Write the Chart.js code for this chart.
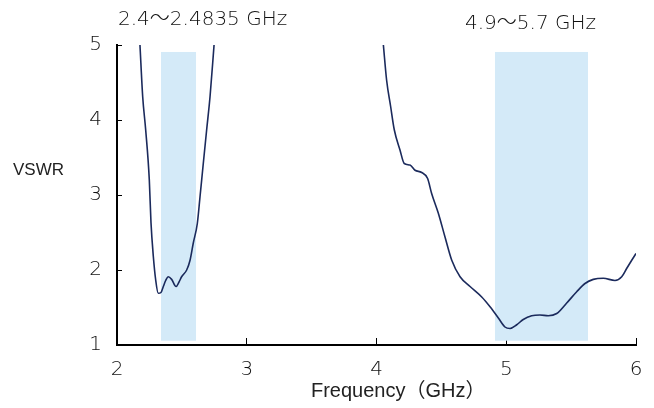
<!DOCTYPE html>
<html>
<head>
<meta charset="utf-8">
<script src="https://cdn.jsdelivr.net/npm/chart.js@4/dist/chart.umd.min.js"></script>
<style>
  html, body { margin: 0; padding: 0; background: #fff; }
</style>
</head>
<body>
<canvas id="c" width="654" height="408"></canvas>
<script>
// 2.4 GHz band response
const freqLow = [2.177, 2.198, 2.221, 2.249, 2.262, 2.280, 2.298, 2.318, 2.339, 2.357, 2.375, 2.395, 2.421, 2.455, 2.478, 2.498, 2.537, 2.563, 2.588, 2.619, 2.640, 2.665, 2.691, 2.717, 2.748];
const vswrLow = [5.0, 4.31, 3.87, 3.2, 2.63, 2.18, 1.87, 1.69, 1.70, 1.78, 1.86, 1.91, 1.875, 1.78, 1.84, 1.91, 2.0, 2.13, 2.36, 2.62, 2.98, 3.42, 3.87, 4.31, 5.0];

// 5 GHz band response
const freqHigh = [4.053, 4.078, 4.109, 4.137, 4.181, 4.214, 4.258, 4.297, 4.348, 4.394, 4.425, 4.476, 4.528, 4.580, 4.644, 4.721, 4.811, 4.875, 4.939, 4.990, 5.029, 5.081, 5.131, 5.196, 5.260, 5.324, 5.389, 5.466, 5.543, 5.607, 5.671, 5.748, 5.838, 5.890, 5.928, 5.967, 6.0];
const vswrHigh = [5.0, 4.53, 4.18, 3.87, 3.6, 3.42, 3.4, 3.33, 3.30, 3.22, 3.02, 2.76, 2.44, 2.13, 1.91, 1.78, 1.64, 1.51, 1.36, 1.24, 1.22, 1.27, 1.34, 1.39, 1.40, 1.39, 1.42, 1.56, 1.71, 1.82, 1.875, 1.89, 1.86, 1.91, 2.02, 2.13, 2.22];

// shaded bands
const bandStart = [2.339, 4.913];
const bandEnd = [2.609, 5.63];
const bandBottom = 1.057;
const bandTop = 4.907;
const bandLabels = ['2.4〜2.4835 GHz', '4.9〜5.7 GHz'];
const bandLabelX = [2.008, 4.682];
const bandLabelY = [5.267, 5.213];

const xTicks = [2, 3, 4, 5, 6];
const yTicks = [1, 2, 3, 4, 5];

const NUM_FONT = "'DejaVu Sans', 'Noto Sans CJK JP', sans-serif";
const LBL_FONT = "'Liberation Sans', 'Noto Sans CJK JP', sans-serif";
const TEXT = '#111111';

const bandsPlugin = {
  id: 'bands',
  beforeDatasetsDraw(chart) {
    const { ctx, scales: { x, y } } = chart;
    ctx.save();
    ctx.fillStyle = '#d4eaf8';
    bandStart.forEach((s, i) => {
      const x0 = x.getPixelForValue(s);
      const x1 = x.getPixelForValue(bandEnd[i]);
      const y0 = y.getPixelForValue(bandTop);
      const y1 = y.getPixelForValue(bandBottom);
      ctx.fillRect(x0, y0, x1 - x0, y1 - y0);
    });
    ctx.restore();
  },
  afterDraw(chart) {
    const { ctx, scales: { x, y } } = chart;
    ctx.save();
    ctx.fillStyle = TEXT;
    ctx.textAlign = 'left';
    ctx.textBaseline = 'alphabetic';
    ctx.font = '300 20px ' + NUM_FONT;
    bandLabels.forEach((t, i) => {
      ctx.fillText(t, x.getPixelForValue(bandLabelX[i]), y.getPixelForValue(bandLabelY[i]));
    });
    // axis titles
    ctx.fillStyle = '#222';
    ctx.font = '17px ' + LBL_FONT;
    ctx.fillText('VSWR', 13, y.getPixelForValue(3.27));
    ctx.font = '20px ' + LBL_FONT;
    ctx.fillText('Frequency（GHz）', x.getPixelForValue(3.495), 397);
    ctx.restore();
  }
};

const lineStyle = {
  borderColor: '#1b2a5c',
  borderWidth: 1.6,
  pointRadius: 0,
  cubicInterpolationMode: 'monotone',
  fill: false
};

new Chart(document.getElementById('c'), {
  type: 'line',
  data: {
    datasets: [
      { ...lineStyle, data: freqLow.map((f, i) => ({ x: f, y: vswrLow[i] })) },
      { ...lineStyle, data: freqHigh.map((f, i) => ({ x: f, y: vswrHigh[i] })) }
    ]
  },
  options: {
    responsive: false,
    animation: false,
    layout: { padding: { top: 45, right: 18, left: 0, bottom: 0 } },
    plugins: {
      legend: { display: false },
      tooltip: { enabled: false }
    },
    scales: {
      x: {
        type: 'linear',
        min: 2,
        max: 6,
        afterBuildTicks: s => { s.ticks = xTicks.map(v => ({ value: v })); },
        afterFit: s => { s.height = 63; s.paddingLeft = 0; s.paddingRight = 0; },
        border: { display: true, color: '#000', width: 2 },
        grid: { drawOnChartArea: false, drawTicks: true, tickLength: -7, color: '#000', lineWidth: 1 },
        ticks: { color: TEXT, font: { family: NUM_FONT, size: 20, weight: '300' }, padding: 20, maxRotation: 0 }
      },
      y: {
        type: 'linear',
        min: 1,
        max: 5,
        afterBuildTicks: s => { s.ticks = yTicks.map(v => ({ value: v })); },
        afterFit: s => { s.width = 117; s.paddingTop = 0; s.paddingBottom = 0; },
        border: { display: true, color: '#000', width: 2 },
        grid: { drawOnChartArea: false, drawTicks: true, tickLength: -5, color: '#000', lineWidth: 1 },
        ticks: { color: TEXT, font: { family: NUM_FONT, size: 20, weight: '300' }, padding: 20 }
      }
    }
  },
  plugins: [bandsPlugin]
});
</script>
</body>
</html>
